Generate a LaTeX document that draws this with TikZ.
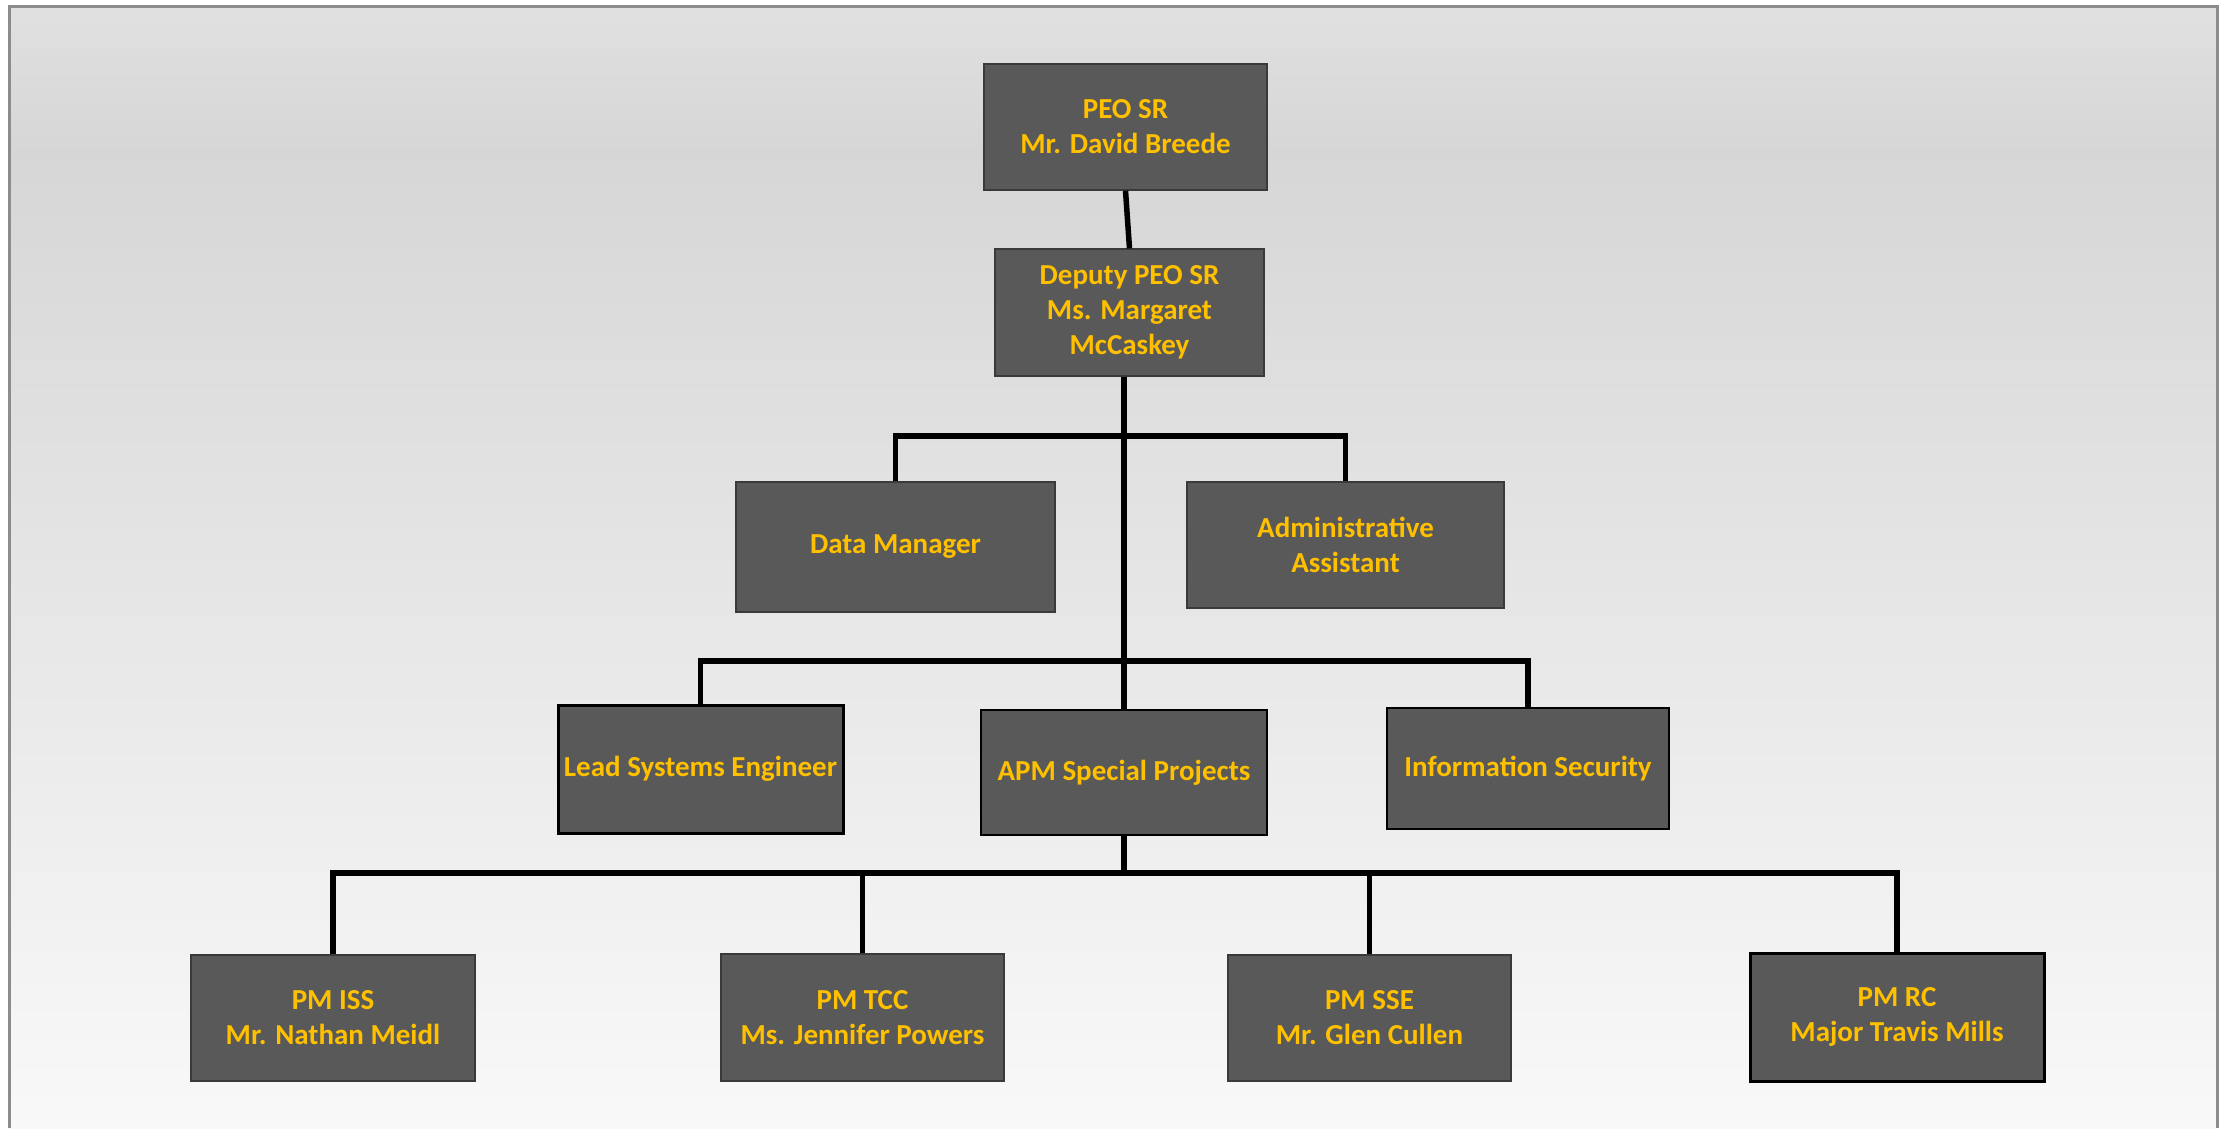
\documentclass[tikz,border=0pt]{standalone}
\usepackage{fontspec}
\setmainfont{Carlito}
\definecolor{boxfill}{HTML}{595959}
\definecolor{gold}{HTML}{FFC000}
\definecolor{framegray}{HTML}{8C8C8C}
\definecolor{thinborder}{HTML}{3A3A3A}
\pgfdeclareverticalshading{bgshade}{100bp}{color(0bp)=(black!2.5);color(25bp)=(black!2.5);color(68.5bp)=(black!16);color(75bp)=(black!12);color(100bp)=(black!12)}
\begin{document}
\begin{tikzpicture}[x=1pt,y=-1pt,
  orgbox/.style={rectangle, fill=boxfill, draw=thinborder, line width=1.2pt,
    text=gold, font=\fontsize{29}{35}\selectfont\bfseries, align=center, inner sep=2pt},
  heavybox/.style={orgbox, draw=black, line width=3pt},
  link/.style={draw=black, line width=5.5pt, line join=miter}]
\useasboundingbox (0,0) rectangle (2224,1128);
\fill[white] (0,0) rectangle (2224,1128);
\shade[shading=bgshade] (9,6) rectangle (2217,1128);
\draw[framegray, line width=3pt] (9,1128) -- (9,6) -- (2217,6) -- (2217,1128);

% nodes
\node[orgbox, minimum width=283pt, minimum height=126pt] (peo) at (1125.5,127) {PEO SR\\Mr. David Breede};
\node[orgbox, minimum width=269pt, minimum height=127pt] (dep) at (1129.5,312.5) {Deputy PEO SR\\Ms. Margaret\\McCaskey};
\node[orgbox, minimum width=319pt, minimum height=130pt] (dm) at (895.5,547) {Data Manager};
\node[orgbox, minimum width=317pt, minimum height=126pt] (adm) at (1345.5,545) {Administrative\\Assistant};
\node[heavybox, minimum width=285pt, minimum height=128pt] (lse) at (700.5,769) {Lead Systems Engineer};
\node[heavybox, line width=2.2pt, minimum width=286pt, minimum height=125pt] (apm) at (1124,772.5) {APM Special Projects};
\node[heavybox, line width=2.5pt, minimum width=282pt, minimum height=121pt] (inf) at (1528,768.5) {Information Security};
\node[orgbox, minimum width=284pt, minimum height=126pt] (iss) at (333,1018) {PM ISS\\Mr. Nathan Meidl};
\node[orgbox, minimum width=283pt, minimum height=127pt] (tcc) at (862.5,1017.5) {PM TCC\\Ms. Jennifer Powers};
\node[orgbox, minimum width=283pt, minimum height=126pt] (sse) at (1369.5,1018) {PM SSE\\Mr. Glen Cullen};
\node[heavybox, minimum width=294pt, minimum height=128pt] (rc) at (1897,1017) {PM RC\\Major Travis Mills};

% bus coordinates
\coordinate (b1) at (1124,436);
\coordinate (b2) at (1124,661);
\coordinate (b3) at (1124,873);

% connectors
\draw[link] (peo.south) -- (dep.north);
\draw[link] (dep.south -| apm.north) -- (apm.north);
\draw[link] (dm.north) -- (dm.north |- b1) -- (adm.north |- b1) -- (adm.north);
\draw[link] (lse.north) -- (lse.north |- b2) -- (inf.north |- b2) -- (inf.north);
\draw[link] (apm.south) -- (b3);
\draw[link] (iss.north) -- (iss.north |- b3) -- (rc.north |- b3) -- (rc.north);
\draw[link] (tcc.north) -- (tcc.north |- b3);
\draw[link] (sse.north) -- (sse.north |- b3);
\end{tikzpicture}
\end{document}
